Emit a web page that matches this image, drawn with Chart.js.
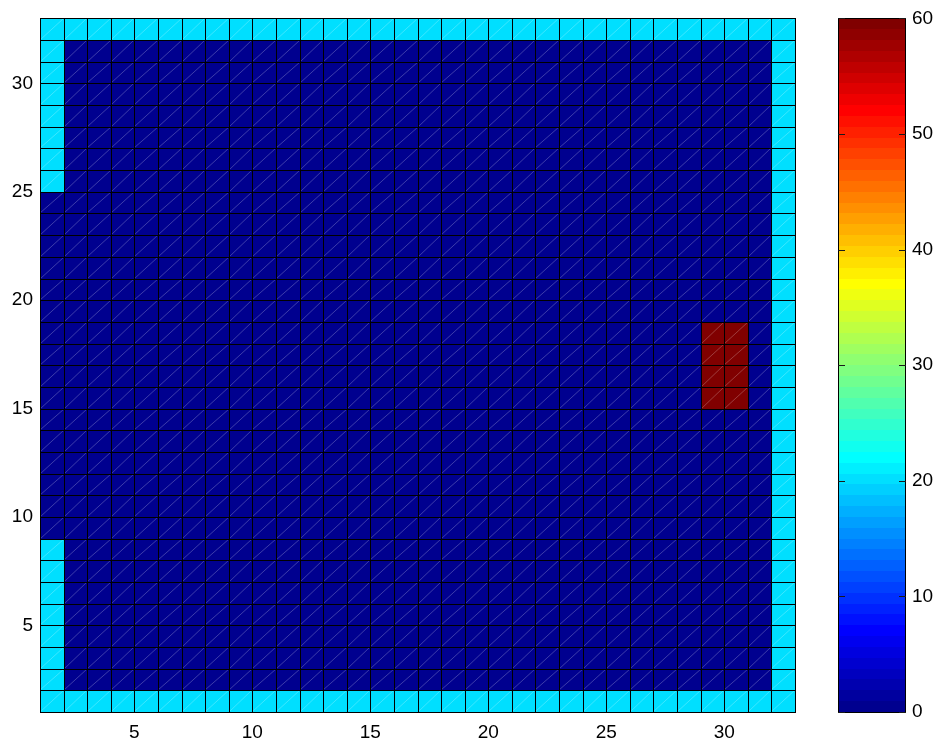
<!DOCTYPE html>
<html>
<head>
<meta charset="utf-8">
<script src="https://cdn.jsdelivr.net/npm/chart.js@4/dist/chart.umd.min.js"></script>
<style>html,body{margin:0;padding:0;background:#fff;}canvas{display:block;}</style>
</head>
<body>
<canvas id="chart" width="937" height="745"></canvas>
<script>
// ---- data ----
const xEdges = [1,2,3,4,5,6,7,8,9,10,11,12,13,14,15,16,17,18,19,20,21,22,23,24,25,26,27,28,29,30,31,32,33];
const yEdges = [1,2,3,4,5,6,7,8,9,10,11,12,13,14,15,16,17,18,19,20,21,22,23,24,25,26,27,28,29,30,31,32,33];
const xTicks = [5,10,15,20,25,30];
const yTicks = [5,10,15,20,25,30];
const colorTicks = [0,10,20,30,40,50,60];
const colorLimits = [0,60];
// cell values, first row = top (y 32..33), last row = bottom (y 1..2)
const cellRows = [
 [20,20,20,20,20,20,20,20, 20,20,20,20,20,20,20,20, 20,20,20,20,20,20,20,20, 20,20,20,20,20,20,20,20],
 [20,0,0,0,0,0,0,0, 0,0,0,0,0,0,0,0, 0,0,0,0,0,0,0,0, 0,0,0,0,0,0,0,20],
 [20,0,0,0,0,0,0,0, 0,0,0,0,0,0,0,0, 0,0,0,0,0,0,0,0, 0,0,0,0,0,0,0,20],
 [20,0,0,0,0,0,0,0, 0,0,0,0,0,0,0,0, 0,0,0,0,0,0,0,0, 0,0,0,0,0,0,0,20],
 [20,0,0,0,0,0,0,0, 0,0,0,0,0,0,0,0, 0,0,0,0,0,0,0,0, 0,0,0,0,0,0,0,20],
 [20,0,0,0,0,0,0,0, 0,0,0,0,0,0,0,0, 0,0,0,0,0,0,0,0, 0,0,0,0,0,0,0,20],
 [20,0,0,0,0,0,0,0, 0,0,0,0,0,0,0,0, 0,0,0,0,0,0,0,0, 0,0,0,0,0,0,0,20],
 [20,0,0,0,0,0,0,0, 0,0,0,0,0,0,0,0, 0,0,0,0,0,0,0,0, 0,0,0,0,0,0,0,20],
 [0,0,0,0,0,0,0,0, 0,0,0,0,0,0,0,0, 0,0,0,0,0,0,0,0, 0,0,0,0,0,0,0,20],
 [0,0,0,0,0,0,0,0, 0,0,0,0,0,0,0,0, 0,0,0,0,0,0,0,0, 0,0,0,0,0,0,0,20],
 [0,0,0,0,0,0,0,0, 0,0,0,0,0,0,0,0, 0,0,0,0,0,0,0,0, 0,0,0,0,0,0,0,20],
 [0,0,0,0,0,0,0,0, 0,0,0,0,0,0,0,0, 0,0,0,0,0,0,0,0, 0,0,0,0,0,0,0,20],
 [0,0,0,0,0,0,0,0, 0,0,0,0,0,0,0,0, 0,0,0,0,0,0,0,0, 0,0,0,0,0,0,0,20],
 [0,0,0,0,0,0,0,0, 0,0,0,0,0,0,0,0, 0,0,0,0,0,0,0,0, 0,0,0,0,0,0,0,20],
 [0,0,0,0,0,0,0,0, 0,0,0,0,0,0,0,0, 0,0,0,0,0,0,0,0, 0,0,0,0,60,60,0,20],
 [0,0,0,0,0,0,0,0, 0,0,0,0,0,0,0,0, 0,0,0,0,0,0,0,0, 0,0,0,0,60,60,0,20],
 [0,0,0,0,0,0,0,0, 0,0,0,0,0,0,0,0, 0,0,0,0,0,0,0,0, 0,0,0,0,60,60,0,20],
 [0,0,0,0,0,0,0,0, 0,0,0,0,0,0,0,0, 0,0,0,0,0,0,0,0, 0,0,0,0,60,60,0,20],
 [0,0,0,0,0,0,0,0, 0,0,0,0,0,0,0,0, 0,0,0,0,0,0,0,0, 0,0,0,0,0,0,0,20],
 [0,0,0,0,0,0,0,0, 0,0,0,0,0,0,0,0, 0,0,0,0,0,0,0,0, 0,0,0,0,0,0,0,20],
 [0,0,0,0,0,0,0,0, 0,0,0,0,0,0,0,0, 0,0,0,0,0,0,0,0, 0,0,0,0,0,0,0,20],
 [0,0,0,0,0,0,0,0, 0,0,0,0,0,0,0,0, 0,0,0,0,0,0,0,0, 0,0,0,0,0,0,0,20],
 [0,0,0,0,0,0,0,0, 0,0,0,0,0,0,0,0, 0,0,0,0,0,0,0,0, 0,0,0,0,0,0,0,20],
 [0,0,0,0,0,0,0,0, 0,0,0,0,0,0,0,0, 0,0,0,0,0,0,0,0, 0,0,0,0,0,0,0,20],
 [20,0,0,0,0,0,0,0, 0,0,0,0,0,0,0,0, 0,0,0,0,0,0,0,0, 0,0,0,0,0,0,0,20],
 [20,0,0,0,0,0,0,0, 0,0,0,0,0,0,0,0, 0,0,0,0,0,0,0,0, 0,0,0,0,0,0,0,20],
 [20,0,0,0,0,0,0,0, 0,0,0,0,0,0,0,0, 0,0,0,0,0,0,0,0, 0,0,0,0,0,0,0,20],
 [20,0,0,0,0,0,0,0, 0,0,0,0,0,0,0,0, 0,0,0,0,0,0,0,0, 0,0,0,0,0,0,0,20],
 [20,0,0,0,0,0,0,0, 0,0,0,0,0,0,0,0, 0,0,0,0,0,0,0,0, 0,0,0,0,0,0,0,20],
 [20,0,0,0,0,0,0,0, 0,0,0,0,0,0,0,0, 0,0,0,0,0,0,0,0, 0,0,0,0,0,0,0,20],
 [20,0,0,0,0,0,0,0, 0,0,0,0,0,0,0,0, 0,0,0,0,0,0,0,0, 0,0,0,0,0,0,0,20],
 [20,20,20,20,20,20,20,20, 20,20,20,20,20,20,20,20, 20,20,20,20,20,20,20,20, 20,20,20,20,20,20,20,20]
];

// ---- MATLAB-style jet colormap (64 entries) ----
function jetMap(m) {
  const q = Math.ceil(m / 4);
  const u = [];
  for (let k = 1; k <= q; k++) u.push(k / q);
  for (let k = 1; k < q; k++) u.push(1);
  for (let k = q; k >= 1; k--) u.push(k / q);
  const off = Math.ceil(q / 2) - (m % 4 === 1 ? 1 : 0);
  const J = Array.from({length: m}, () => [0, 0, 0]);
  for (let k = 0; k < u.length; k++) {
    const g = off + k + 1, r = g + q, b = g - q;
    if (g >= 1 && g <= m) J[g - 1][1] = u[k];
    if (r >= 1 && r <= m) J[r - 1][0] = u[k];
    if (b >= 1 && b <= m) J[b - 1][2] = u[k];
  }
  return J.map(c => 'rgb(' + c.map(v => Math.round(v * 255)).join(',') + ')');
}
const JET = jetMap(64);
function colorFor(v) {
  const t = (v - colorLimits[0]) / (colorLimits[1] - colorLimits[0]);
  const idx = Math.max(0, Math.min(JET.length - 1, Math.floor(t * JET.length)));
  return JET[idx];
}

// ---- build cells from data ----
const nRows = cellRows.length;
const cells = [];
cellRows.forEach((row, r) => {
  const j = nRows - 1 - r;
  row.forEach((v, i) => {
    cells.push({x: xEdges[i], x2: xEdges[i + 1], y: yEdges[j], y2: yEdges[j + 1], v: v});
  });
});

const FONT = {family: '"Liberation Sans", Arial, Helvetica, sans-serif', size: 19};

const heatPlugin = {
  id: 'heat',
  beforeDatasetsDraw(chart) {
    const {ctx, scales: {x, y}} = chart;
    const data = chart.data.datasets[0].data;
    const P = (s, v) => Math.round(s.getPixelForValue(v));
    ctx.save();
    for (const c of data) {
      const x0 = P(x, c.x), x1 = P(x, c.x2), y0 = P(y, c.y), y1 = P(y, c.y2);
      ctx.fillStyle = colorFor(c.v);
      ctx.fillRect(x0, y1, x1 - x0, y0 - y1);
    }
    // triangulation diagonals
    ctx.strokeStyle = 'rgba(255,255,255,0.24)';
    ctx.lineWidth = 1;
    ctx.beginPath();
    for (const c of data) {
      const x0 = P(x, c.x), x1 = P(x, c.x2), y0 = P(y, c.y), y1 = P(y, c.y2);
      ctx.moveTo(x0, y0);
      ctx.lineTo(x1, y1);
    }
    ctx.stroke();
    // cell edges
    ctx.strokeStyle = '#000';
    ctx.lineWidth = 1;
    ctx.beginPath();
    const yT = P(y, yEdges[yEdges.length - 1]), yB = P(y, yEdges[0]);
    const xL = P(x, xEdges[0]), xR = P(x, xEdges[xEdges.length - 1]);
    for (const e of xEdges) {
      const p = P(x, e) + 0.5;
      ctx.moveTo(p, yT); ctx.lineTo(p, yB + 1);
    }
    for (const e of yEdges) {
      const p = P(y, e) + 0.5;
      ctx.moveTo(xL, p); ctx.lineTo(xR + 1, p);
    }
    ctx.stroke();
    ctx.restore();
  },
  afterDraw(chart) {
    const {ctx} = chart;
    const cs = chart.scales.c;
    const L = 838, R = 905;
    const n = JET.length;
    const span = colorLimits[1] - colorLimits[0];
    ctx.save();
    for (let k = 0; k < n; k++) {
      const v0 = colorLimits[0] + span * k / n, v1 = colorLimits[0] + span * (k + 1) / n;
      const p0 = Math.round(cs.getPixelForValue(v0)), p1 = Math.round(cs.getPixelForValue(v1));
      ctx.fillStyle = JET[k];
      ctx.fillRect(L, p1, R - L, p0 - p1);
    }
    const top = Math.round(cs.getPixelForValue(colorLimits[1]));
    const bot = Math.round(cs.getPixelForValue(colorLimits[0]));
    ctx.strokeStyle = '#000';
    ctx.lineWidth = 1;
    ctx.strokeRect(L + 0.5, top + 0.5, R - L, bot - top);
    ctx.beginPath();
    ctx.strokeStyle = '#1a1a1a';
    for (const t of colorTicks) {
      const p = Math.round(cs.getPixelForValue(t)) + 0.5;
      ctx.moveTo(L, p); ctx.lineTo(L + 7, p);
      ctx.moveTo(R - 6, p); ctx.lineTo(R + 1, p);
    }
    ctx.stroke();
    ctx.fillStyle = '#000';
    ctx.font = FONT.size + 'px ' + FONT.family;
    ctx.textAlign = 'left';
    ctx.textBaseline = 'middle';
    for (const t of colorTicks) {
      ctx.fillText(String(t), R + 7, cs.getPixelForValue(t));
    }
    ctx.restore();
  }
};

new Chart(document.getElementById('chart'), {
  type: 'scatter',
  data: {datasets: [{data: cells, pointRadius: 0, pointHoverRadius: 0, showLine: false}]},
  options: {
    responsive: false,
    animation: false,
    devicePixelRatio: 1,
    events: [],
    layout: {padding: {top: 17, right: 142, left: 0, bottom: 0}},
    plugins: {legend: {display: false}, tooltip: {enabled: false}},
    scales: {
      x: {
        type: 'linear', min: xEdges[0], max: xEdges[xEdges.length - 1],
        afterBuildTicks: s => { s.ticks = xTicks.map(v => ({value: v})); },
        afterFit: s => { s.height = 33; },
        grid: {display: false, drawTicks: false},
        border: {display: false},
        ticks: {color: '#000', font: FONT, padding: 9, maxRotation: 0, autoSkip: false}
      },
      y: {
        type: 'linear', min: yEdges[0], max: yEdges[yEdges.length - 1],
        afterBuildTicks: s => { s.ticks = yTicks.map(v => ({value: v})); },
        afterFit: s => { s.width = 40; },
        grid: {display: false, drawTicks: false},
        border: {display: false},
        ticks: {color: '#000', font: FONT, padding: 7, autoSkip: false}
      },
      c: {
        type: 'linear', axis: 'y', position: 'right', display: false,
        min: colorLimits[0], max: colorLimits[1]
      }
    }
  },
  plugins: [heatPlugin]
});
</script>
</body>
</html>
